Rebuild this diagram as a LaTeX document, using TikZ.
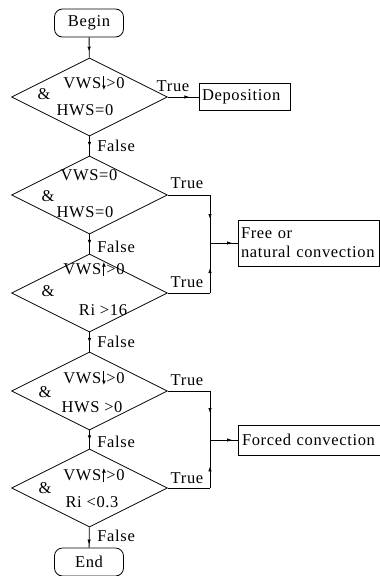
\documentclass[tikz,border=0pt]{standalone}
\usepackage{fontspec}
\setmainfont{Liberation Serif}[LetterSpace=4]
\usetikzlibrary{shapes.geometric,arrows.meta,decorations.markings}
\hyphenpenalty=10000
\newcommand{\dnarr}{\kern0.6pt\tikz[baseline=0pt,x=1pt,y=1pt]\draw[line width=0.9pt,-{Latex[length=4.5pt,width=4pt]}] (0,12) -- (0,-2);\kern0.6pt}
\newcommand{\uparr}{\kern0.6pt\tikz[baseline=0pt,x=1pt,y=1pt]\draw[line width=0.9pt,-{Latex[length=4.5pt,width=4pt]}] (0,-2) -- (0,12);\kern0.6pt}
\begin{document}
\begin{tikzpicture}[x=1pt,y=-1pt,
  font=\fontsize{16.5}{19}\selectfont,
  line width=0.8pt,
  dia/.style={draw,diamond,minimum width=156pt,minimum height=78pt,inner sep=0pt},
  term/.style={draw,rounded corners=8pt,minimum width=69pt,minimum height=28pt,inner sep=0pt},
  procbox/.style={draw,inner ysep=0pt,inner xsep=3pt,align=left},
  lbl/.style={inner sep=0pt},
  marr/.style={postaction={decorate},decoration={markings,mark=at position #1 with {\arrow{Latex[length=5pt,width=3.5pt]}}}},
  marr/.default=0.6]
\path[fill=white,use as bounding box] (0,0) rectangle (380,576);

% terminals
\node[term] (begin) at (89,23) {Begin};
\node[term] (end) at (89,562) {End};

% decisions
\node[dia] (d1) at (89.5,97) {};
\node[dia] (d2) at (89.5,195) {};
\node[dia] (d3) at (89.5,293) {};
\node[dia] (d4) at (89.5,391) {};
\node[dia] (d5) at (89.5,488) {};

% decision texts
\node[lbl] (d1a) at (94,83) {VWS\dnarr>0};
\node[lbl] (d1m) at (44,94) {\&};
\node[lbl] (d1b) at (85,110) {HWS=0};

\node[lbl] (d2a) at (89,175) {VWS=0};
\node[lbl] (d2m) at (48,196) {\&};
\node[lbl] (d2b) at (85,212) {HWS=0};

\node[lbl] (d3a) at (94,269) {VWS\uparr>0};
\node[lbl] (d3m) at (48,291) {\&};
\node[lbl] (d3b) at (103,310) {Ri >16};

\node[lbl] (d4a) at (94,378) {VWS\dnarr>0};
\node[lbl] (d4m) at (45,392) {\&};
\node[lbl] (d4b) at (92,407) {HWS >0};

\node[lbl] (d5a) at (94,475) {VWS\uparr>0};
\node[lbl] (d5m) at (45,488) {\&};
\node[lbl] (d5b) at (92,502) {Ri <0.3};

% process boxes
\node[procbox,minimum height=27pt,text width=85pt] (dep) at (244.5,97) {Deposition};
\node[procbox,minimum height=46pt,text width=135pt] (free) at (308.5,243) {Free or\\natural convection};
\node[procbox,minimum height=30pt,text width=135pt,inner xsep=4pt] (forced) at (309.5,440) {Forced convection};

% junctions
\coordinate (j1) at (210,243);
\coordinate (j2) at (210,440);
\coordinate (c2) at (210,195);
\coordinate (c3) at (210,293);
\coordinate (c4) at (210,391);
\coordinate (c5) at (210,488);

% connectors
\draw[marr=0.7] (begin) -- (d1);
\draw[marr=0.55] (d1) -- (d2);
\draw[marr=0.55] (d2) -- (d3);
\draw[marr=0.55] (d3) -- (d4);
\draw[marr=0.55] (d4) -- (d5);
\draw[marr=0.85] (d5) -- (end);

\draw[marr=0.7] (d1.east) -- (dep.west);

\draw (d2.east) -- (c2);
\draw[marr=0.5] (c2) -- (j1);
\draw (d3.east) -- (c3);
\draw[marr=0.5] (c3) -- (j1);
\draw[marr=0.8] (j1) -- (free.west);

\draw (d4.east) -- (c4);
\draw[marr=0.45] (c4) -- (j2);
\draw (d5.east) -- (c5);
\draw[marr=0.45] (c5) -- (j2);
\draw[marr=0.8] (j2) -- (forced.west);

% branch labels
\node[lbl] (t1) at (173,86) {True};
\node[lbl] (t2) at (187,183) {True};
\node[lbl] (t3) at (187,282) {True};
\node[lbl] (t4) at (187,380) {True};
\node[lbl] (t5) at (187,478) {True};

\node[lbl,anchor=west] (f1) at (97,146) {False};
\node[lbl,anchor=west] (f2) at (97,247) {False};
\node[lbl,anchor=west] (f3) at (97,342) {False};
\node[lbl,anchor=west] (f4) at (97,442) {False};
\node[lbl,anchor=west] (f5) at (97,536) {False};
\end{tikzpicture}
\end{document}
